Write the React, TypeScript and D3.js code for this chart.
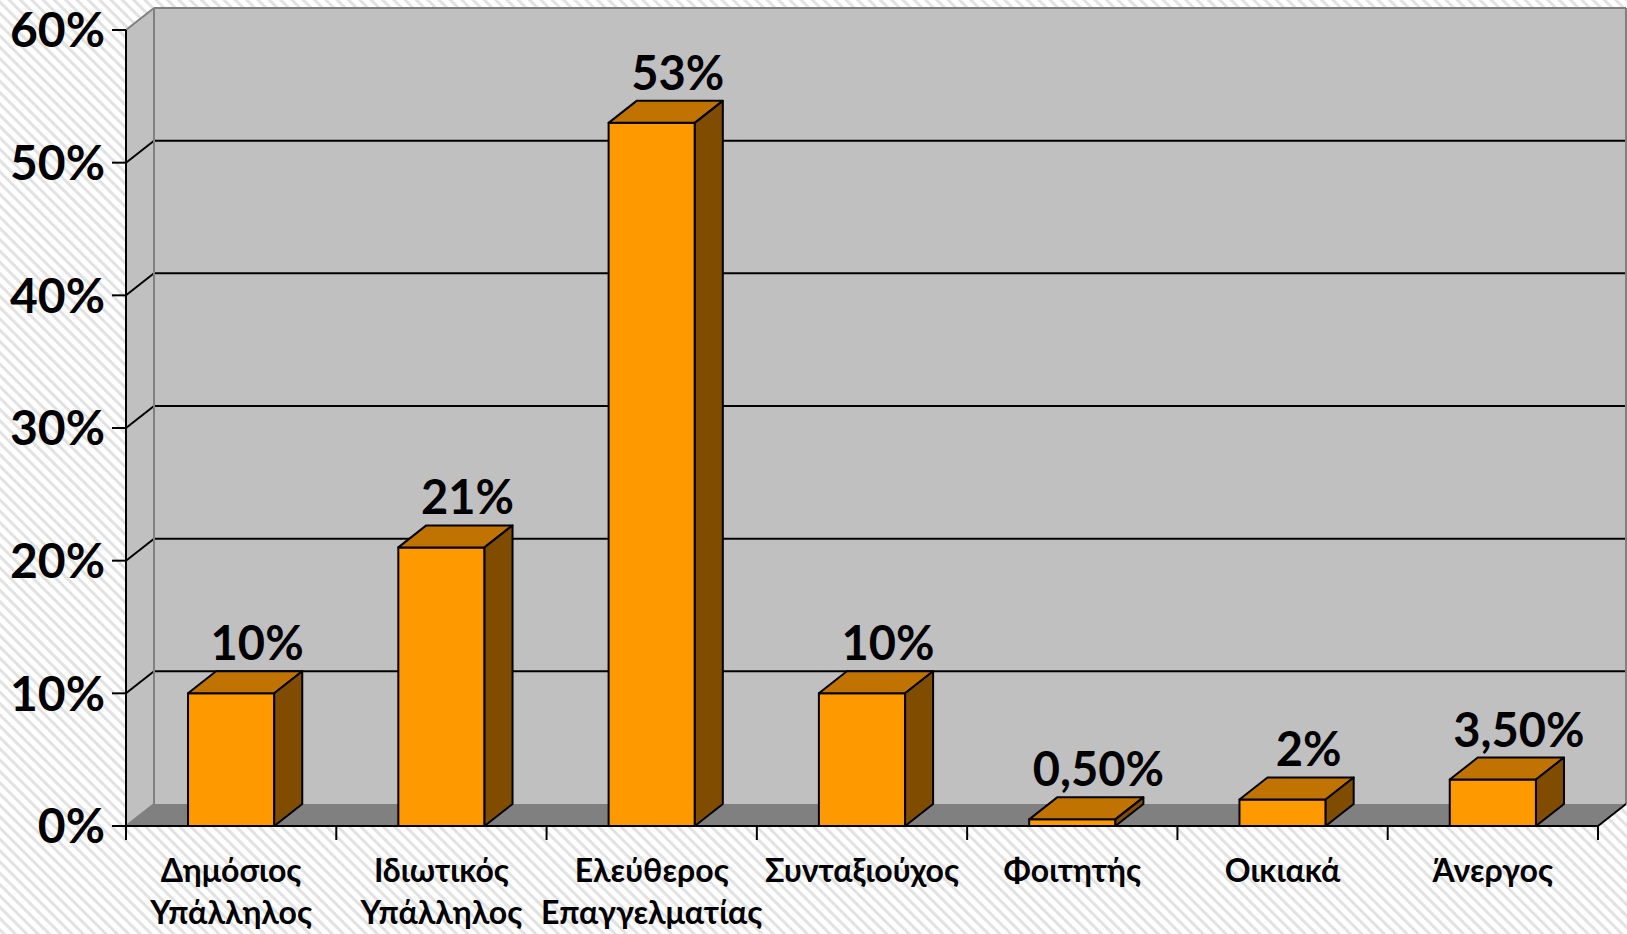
import React from "react";
import * as d3 from "d3";

// Occupation breakdown (share of respondents)
const categories: string[] = [
  "Δημόσιος\nΥπάλληλος",
  "Ιδιωτικός\nΥπάλληλος",
  "Ελεύθερος\nΕπαγγελματίας",
  "Συνταξιούχος",
  "Φοιτητής",
  "Οικιακά",
  "Άνεργος",
];
const values: number[] = [0.1, 0.21, 0.53, 0.1, 0.005, 0.02, 0.035];
const valueLabels: string[] = ["10%", "21%", "53%", "10%", "0,50%", "2%", "3,50%"];
const yTicks: number[] = [0, 0.1, 0.2, 0.3, 0.4, 0.5, 0.6];

const W = 1627;
const H = 934;

// Front plane of the 3D plot and the depth offset of the back wall
const left = 126;
const right = 1598;
const top = 30;
const bottom = 826;
const DX = 28;
const DY = 22;

const FONT = "Lato, 'Open Sans', 'DejaVu Sans', sans-serif";

const COL_FRONT = "#FF9900";
const COL_TOP = "#C07300";
const COL_SIDE = "#7F4C00";
const WALL = "#C0C0C0";
const FLOOR = "#808080";
const EDGE = "#808080";

export default function App() {
  const x = d3.scaleBand<string>().domain(categories).range([left, right]).padding(0);
  const y = d3.scaleLinear().domain([0, 0.6]).range([bottom, top]);
  const pct = d3.format(".0%");
  const barW = x.bandwidth() * 0.41;

  const poly = (pts: [number, number][]) => pts.map((p) => p.join(",")).join(" ");

  return (
    <svg
      width={W}
      height={H}
      viewBox={`0 0 ${W} ${H}`}
      style={{ position: "absolute", left: 0, top: 0, display: "block" }}
    >
      <defs>
        <pattern
          id="stripes"
          width={8}
          height={8}
          patternUnits="userSpaceOnUse"
          patternTransform="rotate(45)"
        >
          <rect width={8} height={8} fill="#ffffff" />
          <rect width={8} height={3} fill="#e2e2e2" />
        </pattern>
      </defs>

      {/* page background */}
      <rect width={W} height={H} fill="url(#stripes)" />

      {/* back wall */}
      <rect x={left + DX} y={top - DY} width={right - left} height={bottom - top} fill={WALL} />
      {/* left side wall */}
      <polygon
        points={poly([
          [left, top],
          [left + DX, top - DY],
          [left + DX, bottom - DY],
          [left, bottom],
        ])}
        fill={WALL}
      />
      {/* floor */}
      <polygon
        points={poly([
          [left, bottom],
          [left + DX, bottom - DY],
          [right + DX, bottom - DY],
          [right, bottom],
        ])}
        fill={FLOOR}
      />

      {/* gridlines on back and side walls */}
      {yTicks
        .filter((t) => t > 0 && t < 0.6)
        .map((t) => (
          <g key={`g${t}`} stroke="#000" strokeWidth={2} fill="none">
            <line x1={left + DX} x2={right + DX} y1={y(t) - DY} y2={y(t) - DY} />
            <line x1={left} x2={left + DX} y1={y(t)} y2={y(t) - DY} />
          </g>
        ))}

      {/* wall edges */}
      <g stroke={EDGE} strokeWidth={2} fill="none">
        <line x1={left} y1={y(0.6)} x2={left + DX} y2={y(0.6) - DY} />
        <line x1={left + DX} y1={y(0.6) - DY} x2={right + DX} y2={y(0.6) - DY} />
        <line x1={right + DX} y1={y(0.6) - DY} x2={right + DX} y2={y(0) - DY} />
        <line x1={left + DX} y1={y(0.6) - DY} x2={left + DX} y2={y(0) - DY} />
        <line x1={left} y1={y(0)} x2={left + DX} y2={y(0) - DY} />
      </g>
      <line x1={right} y1={bottom} x2={right + DX} y2={bottom - DY} stroke="#000" strokeWidth={2} />

      {/* bars */}
      {categories.map((c, i) => {
        const cx = (x(c) ?? 0) + x.bandwidth() / 2;
        const x0 = cx - barW / 2;
        const x1 = cx + barW / 2;
        const yt = y(values[i]);
        const yb = y(0);
        return (
          <g key={c} stroke="#000" strokeWidth={2} strokeLinejoin="round">
            <rect x={x0} y={yt} width={barW} height={yb - yt} fill={COL_FRONT} />
            <polygon
              points={poly([
                [x0, yt],
                [x0 + DX, yt - DY],
                [x1 + DX, yt - DY],
                [x1, yt],
              ])}
              fill={COL_TOP}
            />
            <polygon
              points={poly([
                [x1, yt],
                [x1 + DX, yt - DY],
                [x1 + DX, yb - DY],
                [x1, yb],
              ])}
              fill={COL_SIDE}
            />
          </g>
        );
      })}

      {/* value labels */}
      {categories.map((c, i) => {
        const cx = (x(c) ?? 0) + x.bandwidth() / 2 + DX - 2;
        return (
          <text
            key={`l${c}`}
            x={cx}
            y={y(values[i]) - 33}
            textAnchor="middle"
            fontFamily={FONT}
            fontWeight={700}
            fontSize={47}
            fill="#000"
          >
            {valueLabels[i]}
          </text>
        );
      })}

      {/* value axis */}
      <line x1={left} y1={top} x2={left} y2={bottom + 14} stroke="#000" strokeWidth={2} />
      {yTicks.map((t) => (
        <g key={`t${t}`}>
          <line x1={left - 14} x2={left} y1={y(t)} y2={y(t)} stroke="#000" strokeWidth={2} />
          <text
            x={left - 21}
            y={y(t)}
            dy="0.36em"
            textAnchor="end"
            fontFamily={FONT}
            fontWeight={700}
            fontSize={48}
            fill="#000"
          >
            {pct(t)}
          </text>
        </g>
      ))}

      {/* category axis */}
      <line x1={left} y1={bottom} x2={right} y2={bottom} stroke="#000" strokeWidth={2} />
      {categories.map((c) => (
        <line
          key={`ct${c}`}
          x1={(x(c) ?? 0) + x.bandwidth()}
          x2={(x(c) ?? 0) + x.bandwidth()}
          y1={bottom}
          y2={bottom + 14}
          stroke="#000"
          strokeWidth={2}
        />
      ))}
      {categories.map((c) => {
        const cx = (x(c) ?? 0) + x.bandwidth() / 2;
        return (
          <text
            key={`cl${c}`}
            x={cx}
            y={882}
            textAnchor="middle"
            fontFamily={FONT}
            fontWeight={700}
            fontSize={32}
            fill="#000"
          >
            {c.split("\n").map((line, k) => (
              <tspan key={k} x={cx} dy={k === 0 ? 0 : 42}>
                {line}
              </tspan>
            ))}
          </text>
        );
      })}
    </svg>
  );
}
